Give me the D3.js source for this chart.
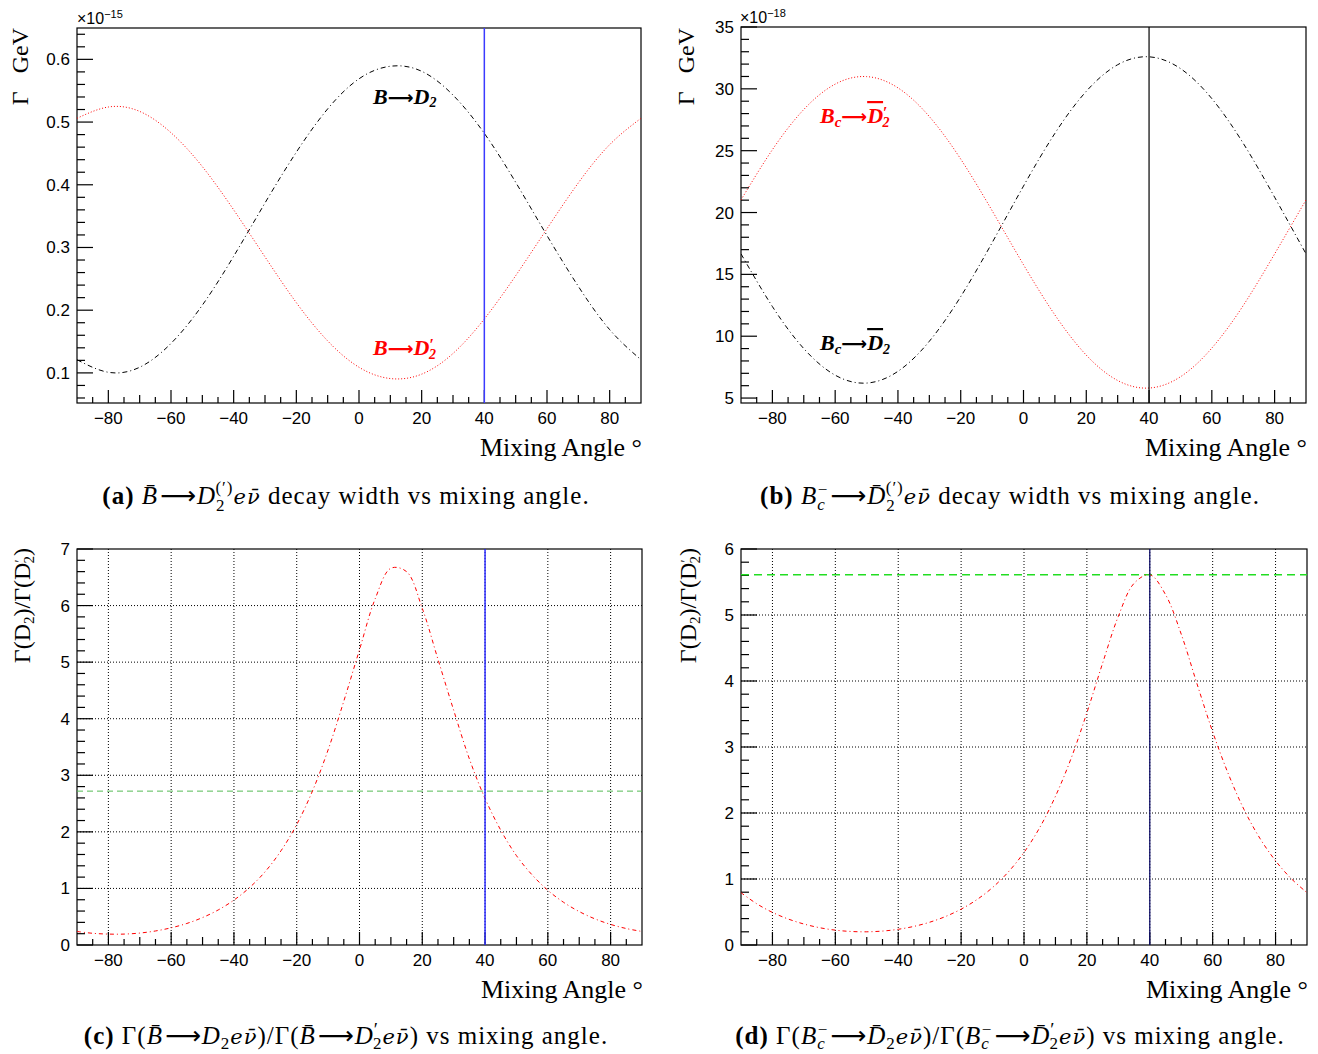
<!DOCTYPE html>
<html lang="en">
<head>
<meta charset="UTF-8">
<title>Decay width vs mixing angle</title>
<script src="https://cdn.jsdelivr.net/npm/d3@7"></script>
<style>
    body { margin: 0; background: #fff; }
    .tick-label { font-family: "Liberation Sans", Arial, sans-serif; font-size: 17px; }
    .serif { font-family: "Liberation Serif", "Times New Roman", serif; }
</style>
</head>
<body>
<svg id="fig" width="1318" height="1054"></svg>
<script>
    // ---- data ----
    const angles10 = [-90, -80, -70, -60, -50, -40, -30, -20, -10, 0, 10, 20, 30, 40, 50, 60, 70, 80, 90];
    // panel (a), units 1e-15 GeV
    const widthBD2  = [0.121, 0.101, 0.109, 0.147, 0.208, 0.286, 0.371, 0.452, 0.521, 0.569, 0.589, 0.581, 0.543, 0.482, 0.404, 0.319, 0.238, 0.169, 0.121];
    const widthBD2p = [0.506, 0.524, 0.517, 0.483, 0.429, 0.360, 0.285, 0.212, 0.151, 0.109, 0.091, 0.098, 0.131, 0.186, 0.255, 0.330, 0.403, 0.464, 0.506];
    // panel (b), units 1e-18 GeV
    const widthBcD2  = [16.66, 12.40, 9.00, 6.85, 6.21, 7.16, 9.59, 13.20, 17.56, 22.14, 26.40, 29.80, 31.95, 32.59, 31.64, 29.21, 25.60, 21.24, 16.66];
    const widthBcD2p = [21.02, 25.08, 28.33, 30.38, 30.99, 30.08, 27.76, 24.32, 20.15, 15.78, 11.72, 8.47, 6.42, 5.81, 6.72, 9.04, 12.48, 16.65, 21.02];

    const angles5 = [-90, -85, -80, -75, -70, -65, -60, -55, -50, -45, -40, -35, -30, -25, -20, -15, -10, -5,
                     0, 5, 10, 15, 20, 25, 30, 35, 40, 45, 50, 55, 60, 65, 70, 75, 80, 85, 90];
    // panel (c)
    const ratioB  = [0.239, 0.207, 0.193, 0.193, 0.211, 0.248, 0.304, 0.381, 0.485, 0.620, 0.794, 1.016, 1.30, 1.666, 2.13, 2.72, 3.45, 4.31,
                     5.22, 6.12, 6.66, 6.60, 5.95, 5.05, 4.15, 3.29, 2.59, 2.03, 1.58, 1.239, 0.967, 0.755, 0.591, 0.462, 0.364, 0.291, 0.239];
    // panel (d)
    const ratioBc = [0.793, 0.625, 0.494, 0.394, 0.318, 0.262, 0.225, 0.205, 0.200, 0.211, 0.238, 0.282, 0.345, 0.431, 0.543, 0.687, 0.871, 1.106,
                     1.403, 1.779, 2.253, 2.83, 3.52, 4.27, 4.98, 5.48, 5.61, 5.31, 4.71, 3.96, 3.23, 2.59, 2.05, 1.618, 1.276, 1.005, 0.793];

    const xLabelTicks = [-80, -60, -40, -20, 0, 20, 40, 60, 80];
    const mixAngle = 40;
    const ratioBRef = 2.72;
    const ratioBcRef = 5.61;

    const ARROW = "\u27f6";
    const svg = d3.select("#fig");

    function makePanel(cfg) {
        const g = svg.append("g");
        const x = d3.scaleLinear().domain([-90, 90]).range([cfg.x0, cfg.x1]);
        const y = d3.scaleLinear().domain(cfg.ydom).range([cfg.y1, cfg.y0]);

        const clipId = "clip" + cfg.id;
        svg.append("clipPath").attr("id", clipId).append("rect")
            .attr("x", cfg.x0).attr("y", cfg.y0)
            .attr("width", cfg.x1 - cfg.x0).attr("height", cfg.y1 - cfg.y0);

        // grid
        if (cfg.grid) {
            g.selectAll(".gx").data(xLabelTicks).join("line")
                .attr("x1", d => x(d)).attr("x2", d => x(d))
                .attr("y1", cfg.y0).attr("y2", cfg.y1)
                .style("stroke", "#000").style("stroke-width", 1).style("stroke-dasharray", "1,2");
            const gy = d3.range(cfg.ydom[0] + cfg.ymajor, cfg.ydom[1] - 1e-6, cfg.ymajor);
            g.selectAll(".gy").data(gy).join("line")
                .attr("x1", cfg.x0).attr("x2", cfg.x1)
                .attr("y1", d => y(d)).attr("y2", d => y(d))
                .style("stroke", "#000").style("stroke-width", 1).style("stroke-dasharray", "1,2");
        }

        // x ticks (inside, from the bottom)
        const xt = d3.range(-85, 90, 5);
        g.selectAll(".xt").data(xt).join("line")
            .attr("x1", d => x(d)).attr("x2", d => x(d))
            .attr("y1", cfg.y1)
            .attr("y2", d => cfg.y1 - (d % 20 === 0 ? 13 : (d % 10 === 0 ? 8 : 6)))
            .style("stroke", "#000").style("stroke-width", 1.2);
        g.selectAll(".xl").data(xLabelTicks).join("text")
            .attr("class", "tick-label")
            .attr("x", d => x(d)).attr("y", cfg.y1 + 21)
            .attr("text-anchor", "middle")
            .text(d => d < 0 ? "\u2212" + Math.abs(d) : d);

        // y ticks
        const yt = [];
        const start = Math.ceil(cfg.ydom[0] / cfg.yminor - 1e-6);
        for (let i = start; i * cfg.yminor <= cfg.ydom[1] + 1e-9; i++) yt.push(i);
        const per = Math.round(cfg.ymajor / cfg.yminor);
        g.selectAll(".yt").data(yt).join("line")
            .attr("x1", cfg.x0)
            .attr("x2", d => cfg.x0 + (d % per === 0 ? 16 : 8))
            .attr("y1", d => y(d * cfg.yminor)).attr("y2", d => y(d * cfg.yminor))
            .style("stroke", "#000").style("stroke-width", 1.2);
        const ylabels = yt.filter(d => d % per === 0).map(d => d * cfg.yminor);
        g.selectAll(".yl").data(ylabels).join("text")
            .attr("class", "tick-label")
            .attr("x", cfg.x0 - 7).attr("y", d => y(d) + 6)
            .attr("text-anchor", "end")
            .text(d => cfg.yfmt(d));

        // frame
        g.append("rect")
            .attr("x", cfg.x0).attr("y", cfg.y0)
            .attr("width", cfg.x1 - cfg.x0).attr("height", cfg.y1 - cfg.y0)
            .style("fill", "none").style("stroke", "#000").style("stroke-width", 1.2);

        // x title
        g.append("text").attr("class", "serif")
            .attr("x", cfg.x1 + 1).attr("y", cfg.y1 + 53)
            .attr("text-anchor", "end")
            .style("font-size", "26px")
            .text("Mixing Angle \u00b0");

        const plot = g.append("g").attr("clip-path", "url(#" + clipId + ")");
        return { g: g, plot: plot, x: x, y: y };
    }

    function drawCurve(p, xs, ys, color, dash, width, curve) {
        const line = d3.line()
            .x((d, i) => p.x(xs[i]))
            .y(d => p.y(d))
            .curve(curve || d3.curveNatural);
        p.plot.append("path")
            .datum(ys)
            .attr("d", line)
            .style("fill", "none")
            .style("stroke", color)
            .style("stroke-width", width)
            .style("stroke-dasharray", dash);
    }

    function vLine(p, v, color, width) {
        p.plot.append("line")
            .attr("x1", p.x(v)).attr("x2", p.x(v))
            .attr("y1", p.y.range()[0]).attr("y2", p.y.range()[1])
            .style("stroke", color).style("stroke-width", width);
    }

    function hLine(p, v, color, dash, width) {
        p.plot.append("line")
            .attr("x1", p.x.range()[0]).attr("x2", p.x.range()[1])
            .attr("y1", p.y(v)).attr("y2", p.y(v))
            .style("stroke", color).style("stroke-width", width)
            .style("stroke-dasharray", dash);
    }

    // rich text: parts = [{s, b, i, size, dy, dx, over, font}]
    function rich(x, y, parts, opts) {
        const t = svg.append("text").attr("class", "serif")
            .attr("x", x).attr("y", y)
            .attr("text-anchor", opts.anchor || "start")
            .style("font-size", opts.size + "px")
            .style("fill", opts.fill || "#000");
        if (opts.spacing) t.style("letter-spacing", opts.spacing + "px");
        if (opts.rotate) t.attr("transform", "rotate(-90," + x + "," + y + ")");
        parts.forEach(function (p) {
            const ts = t.append("tspan").text(p.s);
            if (p.b) ts.style("font-weight", "bold");
            if (p.i) ts.style("font-style", "italic");
            if (p.size) ts.style("font-size", p.size + "px");
            if (p.dy) ts.attr("dy", p.dy);
            if (p.dx) ts.attr("dx", p.dx);
            if (p.over) ts.style("text-decoration", "overline");
            if (p.font) ts.style("font-family", p.font);
        });
        return t;
    }

    function multiplier(x, y, exp) {
        const t = svg.append("text").attr("class", "tick-label")
            .attr("x", x).attr("y", y).style("font-size", "16px");
        t.append("tspan").text("\u00d710");
        t.append("tspan").attr("dy", -6).style("font-size", "11px").text("\u2212" + exp);
    }

    const arrowPart = { s: ARROW, font: "DejaVu Sans", size: 25, dx: 2 };
    const nubar = { s: "e\u03bd\u0304", i: 1, font: "DejaVu Serif", size: 21 };
    const capOpts = { size: 25, anchor: "middle", spacing: 1 };

    // ---------- panel (a) ----------
    const pa = makePanel({ id: "a", x0: 77, x1: 641, y0: 28, y1: 403, ydom: [0.052, 0.65],
        ymajor: 0.1, yminor: 0.02, yfmt: d => d.toFixed(1) });
    drawCurve(pa, angles10, widthBD2p, "#ff0000", "1,2", 1);
    drawCurve(pa, angles10, widthBD2, "#000", "5,3,1,3", 1);
    vLine(pa, mixAngle, "#3b3bff", 1.5);
    multiplier(77, 24, 15);
    rich(28, 28, [{ s: "\u0393" }, { s: "GeV", dx: 18 }], { size: 24, anchor: "end", rotate: true });
    rich(373, 104, [{ s: "B", b: 1, i: 1 }, { s: ARROW, b: 1, font: "DejaVu Sans", size: 18 }, { s: "D", b: 1, i: 1 },
        { s: "2", b: 1, i: 1, size: 14, dy: 3 }], { size: 22 });
    rich(373, 355, [{ s: "B", b: 1, i: 1 }, { s: ARROW, b: 1, font: "DejaVu Sans", size: 18 }, { s: "D", b: 1, i: 1 },
        { s: "\u2032", b: 1, size: 16, dy: -5 }, { s: "2", b: 1, i: 1, size: 14, dx: -5, dy: 9 }], { size: 22, fill: "#ff0000" });

    // ---------- panel (b) ----------
    const pb = makePanel({ id: "b", x0: 741, x1: 1306, y0: 27, y1: 403, ydom: [4.6, 35],
        ymajor: 5, yminor: 1, yfmt: d => d3.format("d")(d) });
    drawCurve(pb, angles10, widthBcD2p, "#ff0000", "1,2", 1);
    drawCurve(pb, angles10, widthBcD2, "#000", "5,3,1,3", 1);
    vLine(pb, mixAngle, "#000", 1.2);
    multiplier(740, 23, 18);
    rich(694, 28, [{ s: "\u0393" }, { s: "GeV", dx: 18 }], { size: 24, anchor: "end", rotate: true });
    rich(820, 123, [{ s: "B", b: 1, i: 1 }, { s: "c", b: 1, i: 1, size: 15, dy: 4 },
        { s: ARROW, b: 1, font: "DejaVu Sans", size: 18, dy: -4 },
        { s: "D", b: 1, i: 1, over: 1 }, { s: "\u2032", b: 1, size: 16, dy: -5 },
        { s: "2", b: 1, i: 1, size: 14, dx: -5, dy: 9 }], { size: 22, fill: "#ff0000" });
    rich(820, 350, [{ s: "B", b: 1, i: 1 }, { s: "c", b: 1, i: 1, size: 15, dy: 4 },
        { s: ARROW, b: 1, font: "DejaVu Sans", size: 18, dy: -4 },
        { s: "D", b: 1, i: 1, over: 1 }, { s: "2", b: 1, i: 1, size: 14, dy: 4 }], { size: 22 });

    // ---------- panel (c) ----------
    const pc = makePanel({ id: "c", x0: 77, x1: 642, y0: 549, y1: 945, ydom: [0, 7],
        ymajor: 1, yminor: 0.2, yfmt: d => d3.format("d")(d), grid: true });
    hLine(pc, ratioBRef, "#55bb55", "6,4", 1);
    drawCurve(pc, angles5, ratioB, "#ff0000", "4,3,1,3", 1, d3.curveCatmullRom);
    vLine(pc, mixAngle, "#3030ff", 1.5);
    rich(30, 548, [{ s: "\u0393(D" }, { s: "2", size: 15, dy: 4 }, { s: ")/\u0393(D", dy: -4 }, { s: "\u2032", size: 14, dy: -5 },
        { s: "2", size: 15, dx: -4, dy: 9 }, { s: ")", dy: -4 }], { size: 24, anchor: "end", rotate: true });

    // ---------- panel (d) ----------
    const pd = makePanel({ id: "d", x0: 741, x1: 1307, y0: 549, y1: 945, ydom: [0, 6],
        ymajor: 1, yminor: 0.2, yfmt: d => d3.format("d")(d), grid: true });
    hLine(pd, ratioBcRef, "#22dd22", "8,5", 1.3);
    drawCurve(pd, angles5, ratioBc, "#ff0000", "4,3,1,3", 1, d3.curveCatmullRom);
    vLine(pd, mixAngle, "#10106a", 1.3);
    rich(696, 548, [{ s: "\u0393(D" }, { s: "2", size: 15, dy: 4 }, { s: ")/\u0393(D", dy: -4 }, { s: "\u2032", size: 14, dy: -5 },
        { s: "2", size: 15, dx: -4, dy: 9 }, { s: ")", dy: -4 }], { size: 24, anchor: "end", rotate: true });

    // ---------- captions ----------
    rich(346, 504, [{ s: "(a)", b: 1 }, { s: "  " }, { s: "B\u0304", i: 1 }, arrowPart, { s: "D", i: 1 },
        { s: "2", size: 17, dy: 7 }, { s: "(\u2032)", size: 17, dx: -10, dy: -18 }, Object.assign({}, nubar, { dy: 11 }),
        { s: " decay width vs mixing angle." }], capOpts);
    rich(1010, 504, [{ s: "(b)", b: 1 }, { s: "  " }, { s: "B", i: 1 }, { s: "c", i: 1, size: 17, dy: 6 },
        { s: "\u2212", size: 17, dx: -8, dy: -15 }, Object.assign({}, arrowPart, { dy: 9 }), { s: "D\u0304", i: 1 },
        { s: "2", size: 17, dy: 7 }, { s: "(\u2032)", size: 17, dx: -10, dy: -18 }, Object.assign({}, nubar, { dy: 11 }),
        { s: " decay width vs mixing angle." }], capOpts);
    rich(346, 1044, [{ s: "(c)", b: 1 }, { s: " \u0393(" }, { s: "B\u0304", i: 1 }, arrowPart, { s: "D", i: 1 },
        { s: "2", size: 17, dy: 5 }, Object.assign({}, nubar, { dy: -5 }), { s: ")/\u0393(" }, { s: "B\u0304", i: 1 }, arrowPart,
        { s: "D", i: 1 }, { s: "\u2032", size: 19, dy: -8 }, { s: "2", size: 17, dx: -6, dy: 13 }, Object.assign({}, nubar, { dy: -5 }),
        { s: ") vs mixing angle." }], capOpts);
    rich(1010, 1044, [{ s: "(d)", b: 1 }, { s: " \u0393(" }, { s: "B", i: 1 }, { s: "c", i: 1, size: 17, dy: 5 },
        { s: "\u2212", size: 17, dx: -8, dy: -14 }, Object.assign({}, arrowPart, { dy: 9 }), { s: "D\u0304", i: 1 },
        { s: "2", size: 17, dy: 5 }, Object.assign({}, nubar, { dy: -5 }), { s: ")/\u0393(" }, { s: "B", i: 1 },
        { s: "c", i: 1, size: 17, dy: 5 }, { s: "\u2212", size: 17, dx: -8, dy: -14 }, Object.assign({}, arrowPart, { dy: 9 }),
        { s: "D\u0304", i: 1 }, { s: "\u2032", size: 19, dy: -8 }, { s: "2", size: 17, dx: -6, dy: 13 },
        Object.assign({}, nubar, { dy: -5 }), { s: ") vs mixing angle." }], capOpts);
</script>
</body>
</html>
